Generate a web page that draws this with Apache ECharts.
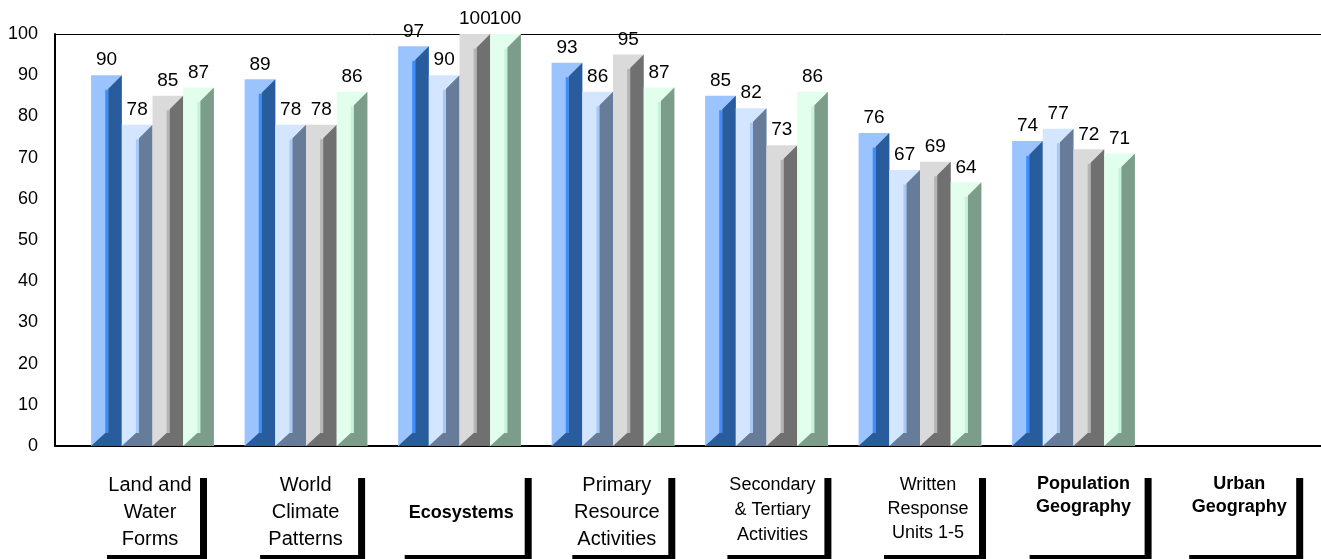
<!DOCTYPE html>
<html>
<head>
<meta charset="utf-8">
<script src="https://cdn.jsdelivr.net/npm/echarts@6/dist/echarts.min.js"></script>
<style>
html,body{margin:0;padding:0;background:#fff;}
#chart{width:1321px;height:559px;}
</style>
</head>
<body>
<div id="chart"></div>
<script>
// ---- data ----
const categories = ['Land and\nWater\nForms', 'World\nClimate\nPatterns', 'Ecosystems', 'Primary\nResource\nActivities', 'Secondary\n& Tertiary\nActivities', 'Written\nResponse\nUnits 1-5', 'Population\nGeography', 'Urban\nGeography'];
const series1 = [90, 89, 97, 93, 85, 76, 74];
const series2 = [78, 78, 90, 86, 82, 67, 77];
const series3 = [85, 78, 100, 95, 73, 69, 72];
const series4 = [87, 86, 100, 87, 86, 64, 71];
const yMin = 0, yMax = 100, yStep = 10;

// ---- styles ----
const FONT = '"Liberation Sans", Arial, sans-serif';
const seriesColors = [
  {light: '#9BC4FE', strip: '#3D8DFB', dark: '#295C9D'},
  {light: '#D4E6FF', strip: '#A8C9F8', dark: '#677C99'},
  {light: '#DADADA', strip: '#B5B5B5', dark: '#707070'},
  {light: '#E2FEEC', strip: '#C8F3D8', dark: '#7B9D89'}
];
const labelStyles = [
  {fontSize: 20, fontWeight: 'normal', lineHeight: 27, width: 100, padding: [1, 0, 2, 0]},
  {fontSize: 20, fontWeight: 'normal', lineHeight: 27, width: 105, padding: [1, 0, 2, 0]},
  {fontSize: 18, fontWeight: 'bold', lineHeight: 24, width: 127, padding: [30, 0, 30, 0]},
  {fontSize: 20, fontWeight: 'normal', lineHeight: 27, width: 103, padding: [1, 0, 2, 0]},
  {fontSize: 18, fontWeight: 'normal', lineHeight: 25, width: 104, padding: [2, 0, 7, 0]},
  {fontSize: 18, fontWeight: 'normal', lineHeight: 24, width: 102, padding: [2, 0, 10, 0]},
  {fontSize: 18, fontWeight: 'bold', lineHeight: 23, width: 122, padding: [2, 0, 36, 0]},
  {fontSize: 18, fontWeight: 'bold', lineHeight: 23, width: 114, padding: [2, 0, 36, 0]}
];

const allSeries = [series1, series2, series3, series4];

function makeRender(sIdx) {
  const col = seriesColors[sIdx];
  return function (params, api) {
    const ci = api.value(0), v = api.value(1);
    const pt = api.coord([ci, v]);
    const b = api.coord([ci, 0]);
    const band = api.size([1, 0])[0];
    const w = band * 0.2;
    const x0 = pt[0] + (sIdx - 2) * w;
    const yv = pt[1], y0 = b[1];
    const xs1 = x0 + 0.46 * w, xs2 = x0 + 0.56 * w;
    const d = x0 + w - xs2;
    const d1 = 0.42 * w;
    return {
      type: 'group',
      children: [
        {type: 'rect', shape: {x: x0, y: yv, width: w, height: y0 - yv}, style: {fill: col.light}},
        {type: 'rect', shape: {x: xs1, y: yv + d + 1, width: xs2 - xs1, height: Math.max(0, y0 - d1 - (yv + d + 1))}, style: {fill: col.strip}},
        {type: 'polygon', shape: {points: [[xs2, yv + d], [x0 + w, yv], [x0 + w, y0], [x0, y0], [xs1, y0 - d1], [xs2, y0 - d1]]}, style: {fill: col.dark}},
        {type: 'text', style: {text: String(v), x: x0 + w / 2, y: yv - 15, align: 'center', verticalAlign: 'middle', fill: '#000', fontSize: 19, fontFamily: FONT}}
      ]
    };
  };
}

const chart = echarts.init(document.getElementById('chart'), null, {renderer: 'canvas'});
const option = {
  backgroundColor: '#fff',
  animation: false,
  grid: [
    {left: 55, top: 34, width: 1300, bottom: 113, show: false},
    {left: 75.75, top: 34, width: 1228, bottom: 113},
    {left: 72.2, top: 34, width: 1244.8, bottom: 113}
  ],
  xAxis: [
    {gridIndex: 0, type: 'value', min: 0, max: 1, position: 'bottom', axisLine: {show: true, onZero: false, lineStyle: {color: '#000', width: 2}}, axisTick: {show: false}, axisLabel: {show: false}, splitLine: {show: false}},
    {gridIndex: 1, type: 'category', data: categories, show: false},
    {gridIndex: 2, type: 'category', data: categories.map((c, i) => ({
        value: c,
        textStyle: Object.assign({
          color: '#000', fontFamily: FONT, align: 'center', verticalAlign: 'top',
          backgroundColor: '#fff', shadowColor: '#000', shadowOffsetX: 7, shadowOffsetY: 7, shadowBlur: 0
        }, labelStyles[i])
      })),
      axisLine: {show: false}, axisTick: {show: false},
      axisLabel: {show: true, interval: 0, margin: 25}
    },
    {gridIndex: 0, type: 'value', min: 0, max: 1, position: 'top', axisLine: {show: true, onZero: false, lineStyle: {color: '#000', width: 1}}, axisTick: {show: false}, axisLabel: {show: false}, splitLine: {show: false}}
  ],
  yAxis: [
    {gridIndex: 0, type: 'value', min: yMin, max: yMax, interval: yStep,
      axisLine: {show: true, lineStyle: {color: '#000', width: 2}}, axisTick: {show: false},
      axisLabel: {color: '#000', fontSize: 18, fontFamily: FONT, margin: 17}, splitLine: {show: false}},
    {gridIndex: 1, type: 'value', min: yMin, max: yMax, interval: yStep, show: false, splitLine: {show: false}},
    {gridIndex: 2, type: 'value', min: yMin, max: yMax, interval: yStep, show: false, splitLine: {show: false}}
  ],
  series: allSeries.map((arr, sIdx) => ({
    type: 'custom',
    xAxisIndex: 1, yAxisIndex: 1,
    renderItem: makeRender(sIdx),
    encode: {x: 0, y: 1},
    data: arr.map((v, i) => [i, v]),
    clip: false
  }))
};
chart.setOption(option);
</script>
</body>
</html>
